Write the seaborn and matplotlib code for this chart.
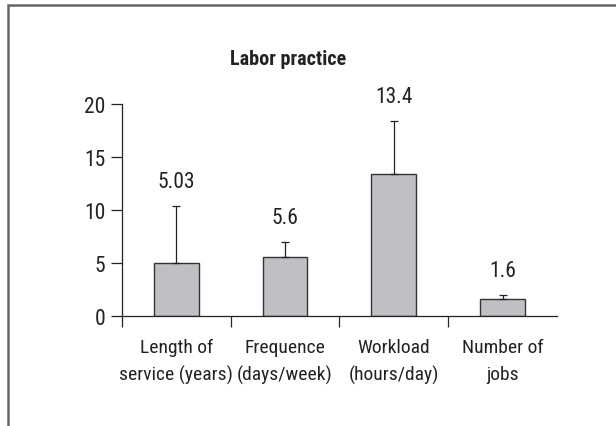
import matplotlib
matplotlib.use("Agg")
import matplotlib.pyplot as plt
import matplotlib.patches as mpatches
import seaborn as sns
import pandas as pd
import numpy as np

# Data
categories = ["Length of\nservice (years)", "Frequence\n(days/week)",
              "Workload\n(hours/day)", "Number of\njobs"]
means = [5.03, 5.6, 13.4, 1.6]
errors = [5.37, 1.4, 5.0, 0.4]
labels = ["5.03", "5.6", "13.4", "1.6"]

sns.set_style("white")
plt.rcParams["font.family"] = ["Roboto Condensed", "Liberation Sans", "DejaVu Sans"]

df = pd.DataFrame({"cat": categories, "mean": means})

fig = plt.figure(figsize=(6.16, 4.27), dpi=100)
ax = fig.add_axes([0.198, 0.2576, 0.706, 0.4964])

sns.barplot(data=df, x="cat", y="mean", color="#c0c0c4", edgecolor="#333333",
            linewidth=1.0, width=0.41, saturation=1, ax=ax)

xs = np.arange(len(means))
ax.errorbar(xs, means, yerr=[np.zeros(len(errors)), errors], fmt="none",
            ecolor="#222222", elinewidth=0.9, capsize=3, capthick=0.9,
            clip_on=False)

for x, m, e, t in zip(xs, means, errors, labels):
    ax.text(x, m + e + 2.3, t, ha="center", va="center", fontsize=15.5,
            color="#222222", clip_on=False)

ax.set_xlim(-0.5, 3.5)
ax.set_ylim(0, 20)
ax.set_yticks([0, 5, 10, 15, 20])
ax.tick_params(axis="y", direction="out", length=8, width=0.9, pad=4,
               labelsize=15.5, colors="#222222", left=True)

ax.set_xticks([-0.5, 0.5, 1.5, 2.5])
ax.set_xticklabels([])
ax.set_xticks(xs, minor=True)
ax.set_xticklabels(categories, minor=True, fontsize=14, color="#222222",
                   linespacing=1.6)
ax.tick_params(axis="x", which="major", direction="out", length=8,
               width=0.9, bottom=True)
ax.tick_params(axis="x", which="minor", length=0, pad=16)

ax.set_xlabel("")
ax.set_ylabel("")
sns.despine(ax=ax)
for s in ["left", "bottom"]:
    ax.spines[s].set_color("#222222")
    ax.spines[s].set_linewidth(0.9)

fig.text(288 / 616, 1 - 60 / 427, "Labor practice", ha="center", va="center",
         fontsize=14.5, fontweight="bold", color="#222222")

# outer frame (cut off at right and bottom)
frame = mpatches.Rectangle((8 / 616, -0.1), 1.2, 1 - 6 / 427 + 0.1,
                           transform=fig.transFigure, fill=False,
                           edgecolor="#666666", linewidth=1.8)
fig.patches.append(frame)

fig.savefig("out.png", dpi=100)
